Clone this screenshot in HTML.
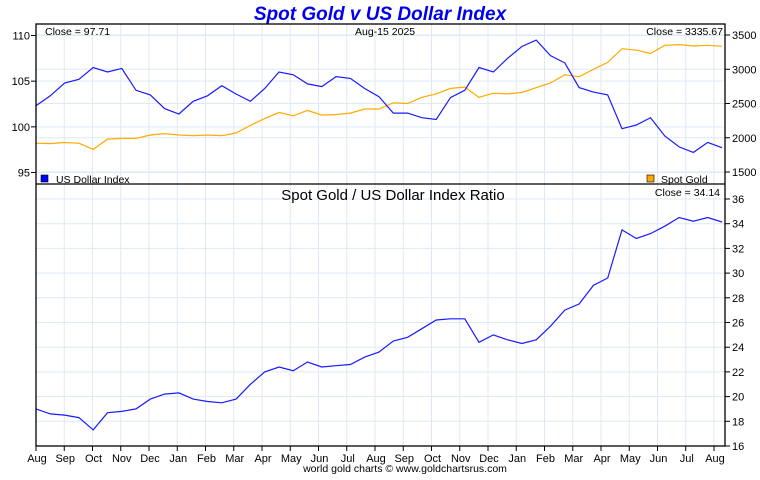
<!DOCTYPE html>
<html><head><meta charset="utf-8"><style>
body{margin:0;background:#fff;width:760px;height:475px;overflow:hidden;font-family:"Liberation Sans",sans-serif}
svg text{font-family:"Liberation Sans",sans-serif}
</style></head><body>
<svg id="c" width="760" height="475" xmlns="http://www.w3.org/2000/svg">
<text x="380" y="20" text-anchor="middle" font-size="19" font-weight="bold" font-style="italic" fill="#0000ee">Spot Gold v US Dollar Index</text>
<g id="grid"></g>
<g id="marks"></g>
<rect x="36" y="24" width="689" height="422" fill="none" stroke="#000" stroke-width="1.3"/>
<line x1="36" y1="184" x2="725" y2="184" stroke="#000" stroke-width="1.3"/>
<text x="45" y="35" font-size="10.5">Close = 97.71</text>
<text x="355" y="35" font-size="10.5">Aug-15  2025</text>
<text x="723" y="35" font-size="10.5" text-anchor="end">Close = 3335.67</text>
<rect x="41" y="175" width="7" height="7" fill="#0000ff" stroke="#000" stroke-width="0.6"/>
<text x="56" y="183" font-size="10.5">US Dollar Index</text>
<rect x="647" y="175" width="7" height="7" fill="#ffa500" stroke="#000" stroke-width="0.6"/>
<text x="661" y="183" font-size="10.5">Spot Gold</text>
<text x="393" y="200" font-size="15" text-anchor="middle">Spot Gold  /  US Dollar Index Ratio</text>
<text x="720" y="196" font-size="10.5" text-anchor="end">Close = 34.14</text>
<text x="405" y="472" font-size="10.5" text-anchor="middle">world gold charts © www.goldchartsrus.com</text>
</svg>
<script>
const months=["Aug","Sep","Oct","Nov","Dec","Jan","Feb","Mar","Apr","May","Jun","Jul","Aug","Sep","Oct","Nov","Dec","Jan","Feb","Mar","Apr","May","Jun","Jul","Aug"];
const dxyTicks=[95,100,105,110];
const goldTicks=[1500,2000,2500,3000,3500];
const ratioTicks=[16,18,20,22,24,26,28,30,32,34,36];
const dxy=[102.3,103.4,104.8,105.2,106.5,106.0,106.4,104.0,103.5,102.0,101.4,102.8,103.4,104.5,103.6,102.8,104.2,106.0,105.7,104.7,104.4,105.5,105.3,104.2,103.3,101.5,101.5,101.0,100.8,103.2,104.0,106.5,106.0,107.5,108.8,109.5,107.8,107.0,104.3,103.8,103.5,99.8,100.2,101.0,99.0,97.8,97.2,98.3,97.71];
const gold=[1920,1915,1930,1920,1830,1980,1990,1990,2040,2060,2040,2030,2040,2030,2070,2180,2280,2370,2320,2400,2330,2340,2360,2420,2420,2510,2500,2590,2640,2720,2740,2590,2650,2640,2660,2730,2800,2920,2890,3000,3100,3300,3280,3230,3350,3360,3340,3350,3335.67];
const ratio=[19.0,18.6,18.5,18.3,17.3,18.7,18.8,19.0,19.8,20.2,20.3,19.8,19.6,19.5,19.8,21.0,22.0,22.4,22.1,22.8,22.4,22.5,22.6,23.2,23.6,24.5,24.8,25.5,26.2,26.3,26.3,24.4,25.0,24.6,24.3,24.6,25.7,27.0,27.5,29.0,29.6,33.5,32.8,33.2,33.8,34.5,34.2,34.5,34.14];

const NS="http://www.w3.org/2000/svg";
const L=36,R=725;
const mx=i=>L+i*(714-L)/24;
const px=i=>L+i*(722-L)/(dxy.length-1);
const yD=v=>35.5+(110-v)*(137/15);
const yG=v=>35+(3500-v)*(137/2000);
const yR=v=>199+(36-v)*(247/20);
const grid=document.getElementById('grid'),marks=document.getElementById('marks'),svg=document.getElementById('c');
function mk(tag,attrs,parent){const e=document.createElementNS(NS,tag);for(const k in attrs)e.setAttribute(k,attrs[k]);parent.appendChild(e);return e;}
months.forEach((m,i)=>{
  const x=mx(i);
  const g=mk('line',{x1:x,y1:24,x2:x,y2:446,stroke:'#dde9f6','stroke-width':1},grid);
  
  
  const tk=mk('line',{x1:x,y1:446,x2:x,y2:451,stroke:'#000'},svg);
  
  
  const t=mk('text',{x:x+1,y:462,'font-size':11,'text-anchor':'middle'},svg);
  t.textContent=m;
  
  
});
dxyTicks.forEach(v=>{
  const y=yD(v);
  const g=mk('line',{x1:L,y1:y,x2:R,y2:y,stroke:'#dde9f6'},grid);
  
  
  const tk=mk('line',{x1:31,y1:y,x2:36,y2:y,stroke:'#000'},svg);
  
  
  const t=mk('text',{x:30,y:y+4,'font-size':11,'text-anchor':'end'},svg);
  t.textContent=v;
  
  
});
goldTicks.forEach(v=>{
  const y=yG(v);
  const g=mk('line',{x1:L,y1:y,x2:R,y2:y,stroke:'#dde9f6'},grid);
  
  
  const tk=mk('line',{x1:725,y1:y,x2:730,y2:y,stroke:'#000'},svg);
  
  
  const t=mk('text',{x:732,y:y+4,'font-size':11},svg);
  t.textContent=v;
  
  
});
ratioTicks.forEach(v=>{
  const y=yR(v);
  if(v>16){const g=mk('line',{x1:L,y1:y,x2:R,y2:y,stroke:'#dde9f6'},grid);
  
  }
  const tk=mk('line',{x1:725,y1:y,x2:730,y2:y,stroke:'#000'},svg);
  
  
  const t=mk('text',{x:732,y:y+4,'font-size':11},svg);
  t.textContent=v;
  
  
});
function line(arr,yf,color){return arr.map((v,i)=>px(i).toFixed(1)+','+yf(v).toFixed(1)).join(' ');}
const gl=mk('polyline',{points:line(gold,yG),fill:'none',stroke:'#ffaa00','stroke-width':1.2},marks);


const dl=mk('polyline',{points:line(dxy,yD),fill:'none',stroke:'#1a1aff','stroke-width':1.2},marks);


const rl=mk('polyline',{points:line(ratio,yR),fill:'none',stroke:'#1a1aff','stroke-width':1.2},marks);


</script>
</body></html>
